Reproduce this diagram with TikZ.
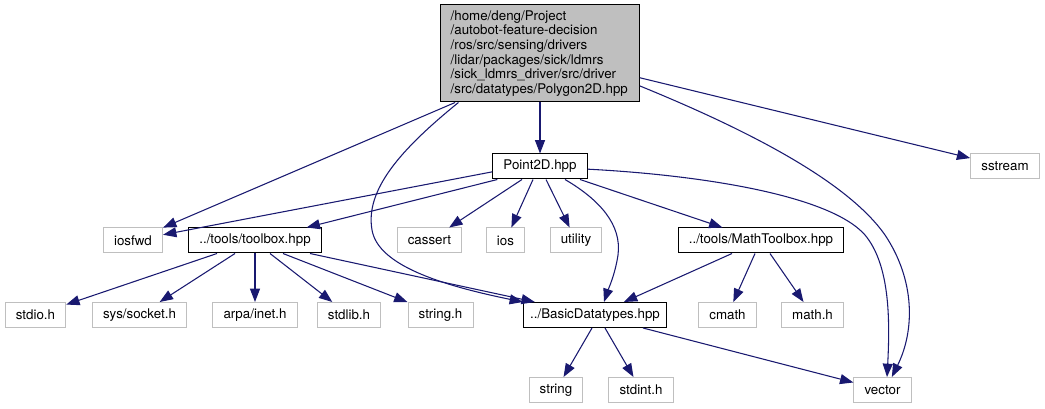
\documentclass[tikz,border=0pt]{standalone}
\usepackage{fontspec}
\setmainfont{TeX Gyre Heros}
\usetikzlibrary{arrows.meta}
\definecolor{edgeblue}{HTML}{191970}
\definecolor{boxgray}{HTML}{BFBFBF}

\begin{document}
\begin{tikzpicture}[x=0.75pt,y=-0.75pt,font=\fontsize{10}{11}\selectfont,
  filebox/.style={draw=black,line width=0.75pt,fill=white,inner xsep=8pt,inner ysep=0pt,minimum height=18.75pt},
  sysbox/.style={filebox,draw=boxgray},
  incl/.style={draw=edgeblue,line width=0.8pt,-{Triangle[length=10pt,width=7.5pt]}}]
\useasboundingbox (0,0) rectangle (1045,409);

% the documented header
\node[filebox,fill=boxgray,align=left,text width=134pt,inner xsep=7.5pt,minimum height=72.75pt] (main) at (540,53.5) {/home/deng/Project\\/autobot-feature-decision\\/ros/src/sensing/drivers\\/lidar/packages/sick/ldmrs\\/sick\_ldmrs\_driver/src/driver\\/src/datatypes/Polygon2D.hpp};

% first level
\node[filebox] (Point2D) at (540,166.5) {Point2D.hpp};
\node[sysbox] (sstream) at (1005,166.5) {sstream};

% second level
\node[sysbox] (iosfwd) at (133,240.5) {iosfwd};
\node[filebox] (toolbox) at (255,240.5) {../tools/toolbox.hpp};
\node[sysbox] (cassert) at (429.5,240.5) {cassert};
\node[sysbox] (ios) at (505.5,240.5) {ios};
\node[sysbox] (utility) at (576,240.5) {utility};
\node[filebox] (MathToolbox) at (761,240.5) {../tools/MathToolbox.hpp};

% third level
\node[sysbox] (stdio) at (35.5,315) {stdio.h};
\node[sysbox] (socket) at (139.5,315) {sys/socket.h};
\node[sysbox] (inet) at (255,315) {arpa/inet.h};
\node[sysbox] (stdlib) at (349,315) {stdlib.h};
\node[sysbox] (stringh) at (440.5,315) {string.h};
\node[filebox,inner xsep=5pt] (BasicDatatypes) at (595,315) {../BasicDatatypes.hpp};
\node[sysbox] (cmath) at (727.5,315) {cmath};
\node[sysbox] (mathh) at (812.5,315) {math.h};

% fourth level
\node[sysbox] (string) at (556,390) {string};
\node[sysbox] (stdint) at (641,390) {stdint.h};
\node[sysbox] (vector) at (882.5,390) {vector};

% includes of Polygon2D.hpp
\draw[incl] (main) -- (Point2D);
\draw[incl] (main) -- (sstream);
\draw[incl] (main.210) -- (iosfwd);
\draw[incl] (main.211) .. controls (400,150) and (365,190) .. (372,230)
  .. controls (378,265) and (440,285) .. (BasicDatatypes.north west);
\draw[incl] (main.-18) .. controls (760,135) and (850,185) .. (885,235)
  .. controls (915,280) and (915,330) .. ([xshift=7pt]vector.north);

% includes of Point2D.hpp
\draw[incl] ([yshift=-4pt]Point2D.west) -- (iosfwd);
\draw[incl] ([xshift=-32pt]Point2D.south) -- (toolbox);
\draw[incl] ([xshift=-13.5pt]Point2D.south) -- (cassert);
\draw[incl] ([xshift=-5.25pt]Point2D.south) -- (ios);
\draw[incl] ([xshift=4.5pt]Point2D.south) -- (utility);
\draw[incl] ([xshift=30pt]Point2D.south) -- (MathToolbox);
\draw[incl] ([xshift=18.75pt]Point2D.south) .. controls (600,200) and (622,225) .. (618,255)
  .. controls (615,275) and (608,290) .. ([xshift=6.75pt]BasicDatatypes.north);
\draw[incl] ([yshift=-2pt]Point2D.east) .. controls (700,175) and (830,195) .. (865,235)
  .. controls (890,265) and (890,320) .. ([xshift=3.4pt]vector.north);

% includes of toolbox.hpp
\draw[incl] ([xshift=-28.5pt]toolbox.south) -- (stdio);
\draw[incl] ([xshift=-15pt]toolbox.south) -- (socket);
\draw[incl] (toolbox) -- (inet);
\draw[incl] ([xshift=11.25pt]toolbox.south) -- (stdlib);
\draw[incl] ([xshift=21pt]toolbox.south) -- (stringh);
\draw[incl] ([xshift=41.25pt]toolbox.south) -- (BasicDatatypes);

% includes of MathToolbox.hpp
\draw[incl] ([xshift=-21.75pt]MathToolbox.south) -- (BasicDatatypes);
\draw[incl] ([xshift=-4.5pt]MathToolbox.south) -- (cmath);
\draw[incl] ([xshift=6.75pt]MathToolbox.south) -- (mathh);

% includes of BasicDatatypes.hpp
\draw[incl] ([xshift=-2.25pt]BasicDatatypes.south) -- (string);
\draw[incl] ([xshift=7.5pt]BasicDatatypes.south) -- (stdint);
\draw[incl] ([xshift=36pt]BasicDatatypes.south) -- (vector);
\end{tikzpicture}
\end{document}
